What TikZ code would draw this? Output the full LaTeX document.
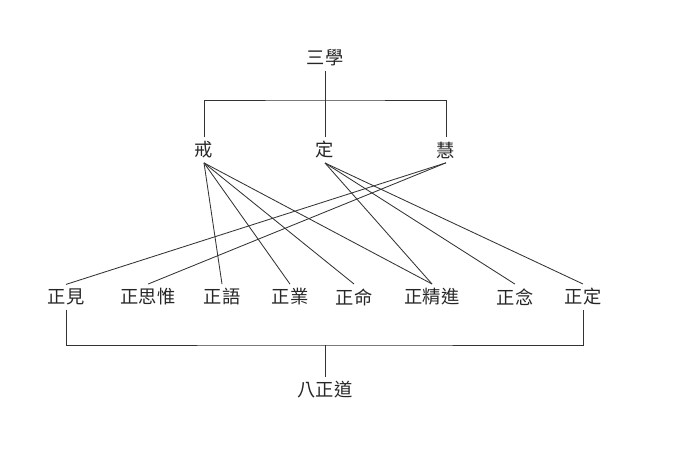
\documentclass[tikz,border=0pt]{standalone}
\usepackage{fontspec}
\setmainfont{Noto Sans CJK TC}
\begin{document}
\begin{tikzpicture}[
    every node/.style={align=center, inner sep=3pt, text=black!85, font=\fontsize{13}{15}\selectfont},
    link/.style={draw, line width=0.6pt, black!80},
    ]
\useasboundingbox (0,0) rectangle (17.5,-11.75);
\node (sanxue) at (8.125,-1.450000) {三學};
\node (jie) at (5.100000,-3.750000) {戒};
\node (ding) at (8.125000,-3.750000) {定};
\node (hui) at (11.150000,-3.750000) {慧};
\coordinate (top) at (8.125000,-2.500000);
\draw[link] (sanxue) -- (ding);
\draw[link] (jie) |- (top) -| (hui);
\node (zhengjian) at (1.650000,-7.425000) {正見};
\node (zhengsiwei) at (3.700000,-7.425000) {正思惟};
\node (zhengyu) at (5.550000,-7.425000) {正語};
\node (zhengye) at (7.250000,-7.425000) {正業};
\node (zhengming) at (8.850000,-7.425000) {正命};
\node (zhengjingjin) at (10.800000,-7.425000) {正精進};
\node (zhengnian) at (12.875000,-7.425000) {正念};
\node (zhengding) at (14.575000,-7.425000) {正定};
\draw[link] (jie.south) -- (zhengyu.north);
\draw[link] (jie.south) -- (zhengye.north);
\draw[link] (jie.south) -- (zhengming.north);
\draw[link] (jie.south) -- (zhengjingjin.north);
\draw[link] (ding.south) -- (zhengjingjin.north);
\draw[link] (ding.south) -- (zhengnian.north);
\draw[link] (ding.south) -- (zhengding.north);
\draw[link] (hui.south) -- (zhengjian.north);
\draw[link] (hui.south) -- (zhengsiwei.north);
\node (bazhengdao) at (8.125000,-9.750000) {八正道};
\coordinate (bottom) at (8.125000,-8.625000);
\draw[link] (zhengjian) |- (bottom) -| (zhengding);
\draw[link] (bottom) -- (bazhengdao);
\end{tikzpicture}
\end{document}
